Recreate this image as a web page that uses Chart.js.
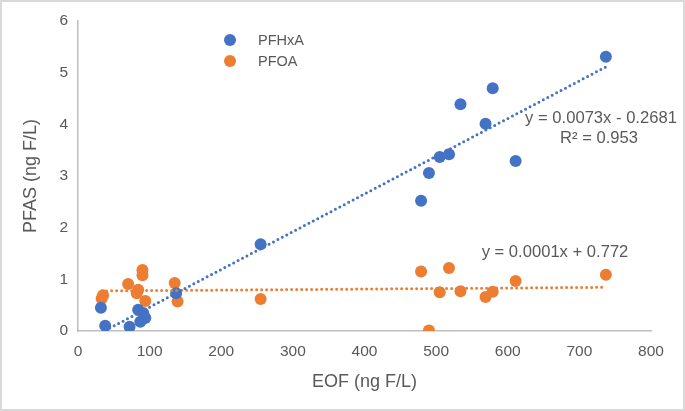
<!DOCTYPE html>
<html>
<head>
<meta charset="utf-8">
<script src="https://cdn.jsdelivr.net/npm/chart.js@4.4.1/dist/chart.umd.min.js"></script>
<style>
  html, body { margin: 0; padding: 0; background: #fff; }
  #wrap { position: relative; width: 685px; height: 411px; box-sizing: border-box; border: 2px solid #d9d9d9; }
  canvas { position: absolute; left: -2px; top: -2px; }
</style>
</head>
<body>
<div id="wrap"><canvas id="c" width="685" height="411"></canvas></div>
<script>
// ---- Data ----
const seriesNames = ["PFHxA", "PFOA"];
const pfhxaX = [32, 38, 72, 84, 87, 91, 94, 137, 255, 479, 490, 505, 518, 534, 569, 579, 611, 737];
const pfhxaY = [0.45, 0.10, 0.08, 0.41, 0.18, 0.35, 0.25, 0.73, 1.68, 2.52, 3.06, 3.37, 3.42, 4.39, 4.01, 4.70, 3.29, 5.31];
const pfoaX = [33, 35, 70, 82, 84, 90, 90, 94, 135, 139, 255, 479, 490, 505, 518, 534, 569, 579, 611, 737];
const pfoaY = [0.63, 0.69, 0.91, 0.73, 0.80, 1.18, 1.08, 0.58, 0.93, 0.57, 0.62, 1.15, 0.01, 0.75, 1.22, 0.77, 0.66, 0.76, 0.97, 1.09];
// trendline coefficients as printed on the chart
const pfhxaFit = { slope: 0.0073, intercept: -0.2681, r2: 0.953 };
const pfoaFit = { slope: 0.0001, intercept: 0.772 };
const equationTexts = ["y = 0.0073x - 0.2681", "R² = 0.953", "y = 0.0001x + 0.772"];
const xTicks = [0, 100, 200, 300, 400, 500, 600, 700, 800];
const yTicks = [0, 1, 2, 3, 4, 5, 6];
const xTitle = "EOF (ng F/L)";
const yTitle = "PFAS (ng F/L)";

const BLUE = "#4472C4", ORANGE = "#ED7D31", TXT = "#595959";
const FONT = "'Liberation Sans', Arial, sans-serif";

function pts(xs, ys) { return xs.map((x, i) => ({ x: x, y: ys[i] })); }
function fitLine(xs, fit) {
  const lo = Math.min(...xs), hi = Math.max(...xs);
  return [lo, hi].map(x => ({ x: x, y: fit.slope * x + fit.intercept }));
}

const overlay = {
  id: "overlay",
  afterDraw(chart) {
    const ctx = chart.ctx;
    ctx.save();
    // legend
    const items = [[seriesNames[0], BLUE, 40], [seriesNames[1], ORANGE, 61]];
    items.forEach(([name, col, y]) => {
      ctx.fillStyle = col;
      ctx.beginPath(); ctx.arc(230, y, 6, 0, Math.PI * 2); ctx.fill();
      ctx.fillStyle = TXT;
      ctx.font = "14.5px " + FONT;
      ctx.textAlign = "left"; ctx.textBaseline = "middle";
      ctx.fillText(name, 258, y + 1);
    });
    // equations
    ctx.font = "16.6px " + FONT;
    ctx.fillStyle = TXT;
    ctx.textAlign = "center"; ctx.textBaseline = "middle";
    ctx.fillText(equationTexts[0], 601, 118);
    ctx.fillText(equationTexts[1], 599, 138);
    ctx.fillText(equationTexts[2], 555, 252);
    ctx.restore();
  }
};

new Chart(document.getElementById("c"), {
  type: "scatter",
  data: {
    datasets: [
      { label: "PFHxA trend", type: "line", data: fitLine(pfhxaX, pfhxaFit), borderColor: BLUE, borderWidth: 3,
        borderDash: [0, 5], borderCapStyle: "round", pointRadius: 0, fill: false, order: 0 },
      { label: "PFOA trend", type: "line", data: fitLine(pfoaX, pfoaFit), borderColor: ORANGE, borderWidth: 3,
        borderDash: [0, 5], borderCapStyle: "round", pointRadius: 0, fill: false, order: 0 },
      { label: seriesNames[0], data: pts(pfhxaX, pfhxaY), backgroundColor: BLUE, borderColor: BLUE, pointRadius: 6, pointBorderWidth: 0, order: 1 },
      { label: seriesNames[1], data: pts(pfoaX, pfoaY), backgroundColor: ORANGE, borderColor: ORANGE, pointRadius: 6, pointBorderWidth: 0, order: 1 }
    ]
  },
  options: {
    responsive: false,
    animation: false,
    layout: { padding: { top: 21, right: 34, left: 16, bottom: 0 } },
    plugins: { legend: { display: false }, tooltip: { enabled: false } },
    scales: {
      x: {
        type: "linear", min: 0, max: 800,
        afterBuildTicks: s => { s.ticks = xTicks.map(v => ({ value: v })); },
        afterFit: s => { s.height = 80; },
        grid: { display: false, drawTicks: false },
        border: { display: true, color: "#bfbfbf", width: 1.5 },
        ticks: { color: TXT, font: { family: FONT, size: 15.5 }, padding: 11, maxRotation: 0 },
        title: { display: true, text: xTitle, color: TXT, font: { family: FONT, size: 18 }, padding: { top: 4, bottom: 18 } }
      },
      y: {
        type: "linear", min: 0, max: 6,
        afterBuildTicks: s => { s.ticks = yTicks.map(v => ({ value: v })); },
        afterFit: s => { s.width = 62; },
        grid: { display: false, drawTicks: false },
        border: { display: true, color: "#bfbfbf", width: 1.5 },
        ticks: { color: TXT, font: { family: FONT, size: 15.5 }, padding: 10 },
        title: { display: true, text: yTitle, color: TXT, font: { family: FONT, size: 18 }, padding: { top: 4, bottom: 4 } }
      }
    }
  },
  plugins: [overlay]
});
</script>
</body>
</html>
